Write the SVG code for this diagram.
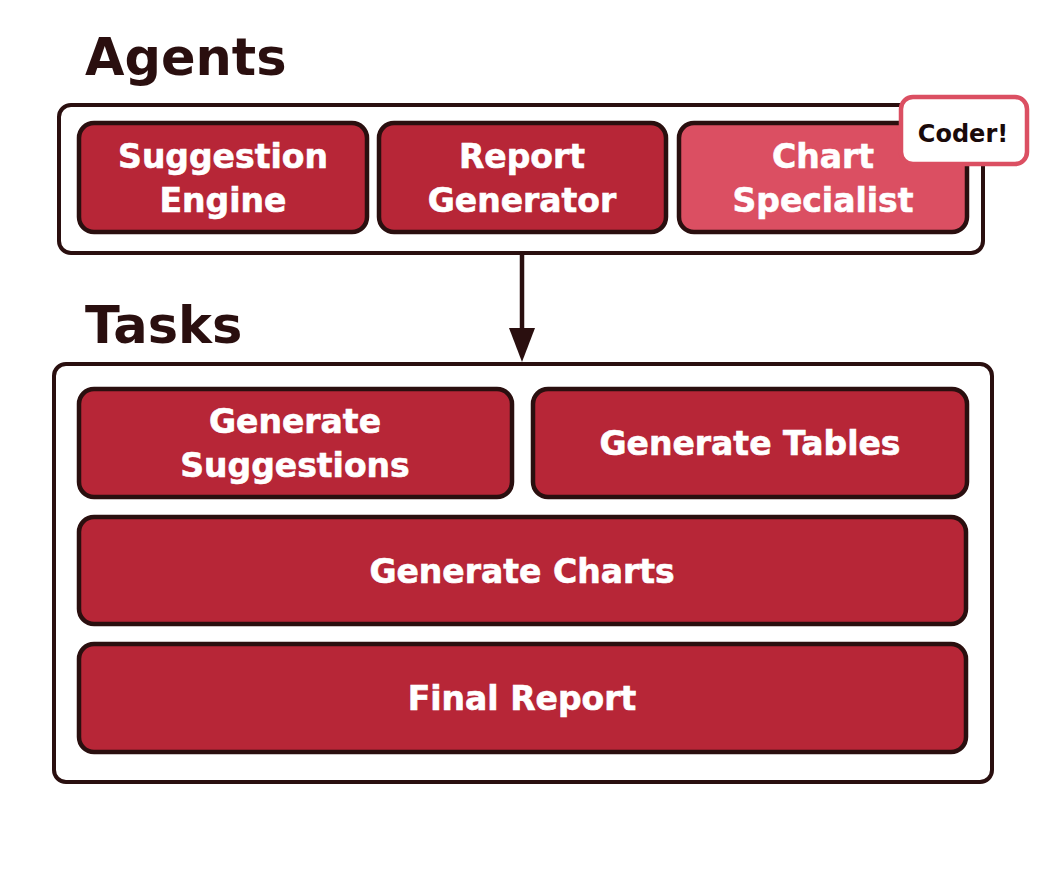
<svg xmlns="http://www.w3.org/2000/svg" width="1049" height="891" viewBox="0 0 1049 891">
<defs>
<style>
.title{font-family:"DejaVu Sans",sans-serif;font-weight:bold;font-size:51px;fill:#2A0F0F}
.outer{fill:#fff;stroke:#2A0F0F;stroke-width:4}
.node{fill:#B72637;stroke:#2A0F0F;stroke-width:4.5}
.light{fill:#DB4F62}
.lbl{font-family:"DejaVu Sans",sans-serif;font-weight:bold;font-size:33px;fill:#fff;text-anchor:middle;stroke:#fff;stroke-width:0.6}
.badge{fill:#fff;stroke:#DB4F62;stroke-width:4.5}
.btxt{font-family:"DejaVu Sans",sans-serif;font-weight:bold;font-size:24px;fill:#1a0a0a;text-anchor:middle}
</style>
</defs>
<rect width="1049" height="891" fill="#fff"/>
<text class="title" x="85" y="75">Agents</text>
<text class="title" x="85" y="343">Tasks</text>
<g id="agents-group"><rect class="outer" x="59" y="105" width="924" height="148" rx="12"/></g>
<g id="tasks-group"><rect class="outer" x="54" y="364" width="938" height="418" rx="12"/></g>
<g id="connectors">
<line x1="522" y1="253" x2="522" y2="330" stroke="#2A0F0F" stroke-width="4.5"/>
<path d="M509,328 L535,328 L522,362 Z" fill="#2A0F0F"/>
</g>
<g id="suggestion-engine">
<rect class="node" x="79" y="123" width="288" height="109" rx="15"/>
<text class="lbl" x="223" y="168">Suggestion</text>
<text class="lbl" x="223" y="212">Engine</text>
</g>
<g id="report-generator">
<rect class="node" x="379" y="123" width="287" height="109" rx="15"/>
<text class="lbl" x="522" y="168">Report</text>
<text class="lbl" x="522" y="212">Generator</text>
</g>
<g id="chart-specialist">
<rect class="node light" x="679" y="123" width="288" height="109" rx="15"/>
<text class="lbl" x="823" y="168">Chart</text>
<text class="lbl" x="823" y="212">Specialist</text>
</g>
<g id="coder-badge">
<rect class="badge" x="901" y="97" width="126" height="67" rx="12"/>
<text class="btxt" x="963" y="142">Coder!</text>
</g>
<g id="generate-suggestions">
<rect class="node" x="79" y="389" width="433" height="108" rx="15"/>
<text class="lbl" x="295" y="433">Generate</text>
<text class="lbl" x="295" y="477">Suggestions</text>
</g>
<g id="generate-tables">
<rect class="node" x="533" y="389" width="434" height="108" rx="15"/>
<text class="lbl" x="750" y="455">Generate Tables</text>
</g>
<g id="generate-charts">
<rect class="node" x="79" y="517" width="887" height="107" rx="15"/>
<text class="lbl" x="522" y="583">Generate Charts</text>
</g>
<g id="final-report">
<rect class="node" x="79" y="644" width="887" height="108" rx="15"/>
<text class="lbl" x="522" y="710">Final Report</text>
</g>
</svg>
